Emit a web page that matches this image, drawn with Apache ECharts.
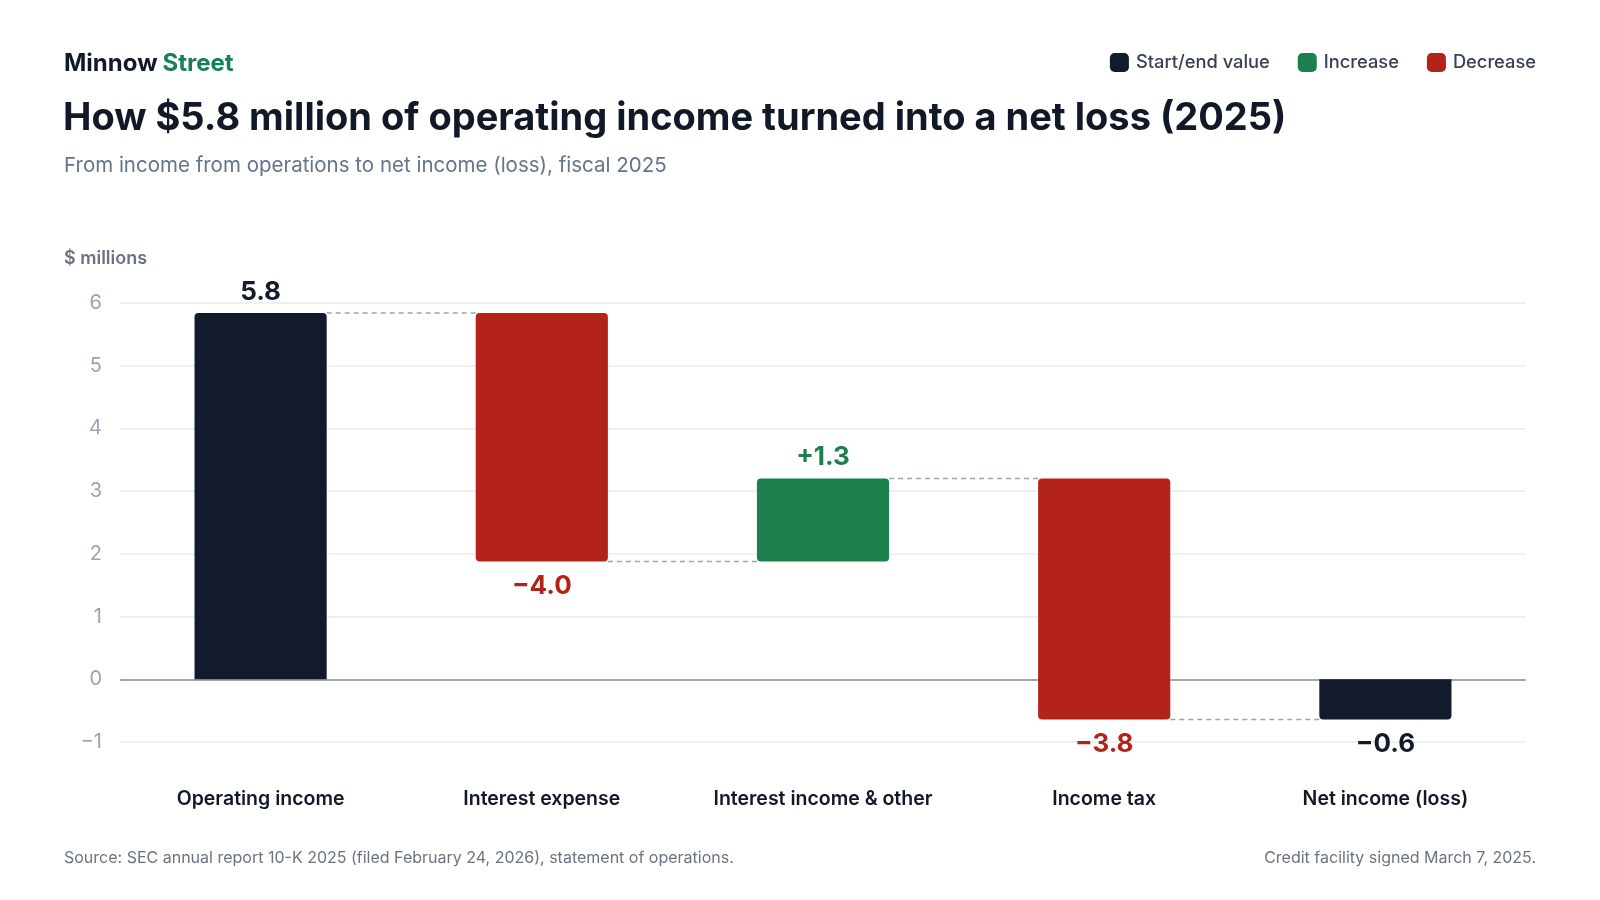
<!DOCTYPE html>
<html>
<head>
<meta charset="utf-8">
<script src="https://cdn.jsdelivr.net/npm/echarts@6/dist/echarts.min.js"></script>
<style>
  html, body { margin: 0; padding: 0; background: #ffffff; }
  #main { width: 1600px; height: 900px; }
</style>
</head>
<body>
<div id="main"></div>
<script>
var chart = echarts.init(document.getElementById("main"));

// valores ($ millones)
var categorias = ["Operating income", "Interest expense", "Interest income & other", "Income tax", "Net income (loss)"];
var valores = [5.84, -3.96, 1.32, -3.84, -0.64];
var tipos = ["total", "delta", "delta", "delta", "total"];
var ticksY = [-1, 0, 1, 2, 3, 4, 5, 6];

var colorTotal = "#131a2b";
var colorSube = "#1b804c";
var colorBaja = "#b32319";
var fuente = "Inter, 'Noto Sans', sans-serif";

// construir tramos de la cascada
var acumulado = 0;
var tramos = [];
for (var i = 0; i < valores.length; i++) {
  var bajo, alto;
  if (tipos[i] === "total") {
    bajo = Math.min(0, valores[i]);
    alto = Math.max(0, valores[i]);
    acumulado = valores[i];
  } else {
    var inicio = acumulado;
    acumulado = acumulado + valores[i];
    bajo = Math.min(inicio, acumulado);
    alto = Math.max(inicio, acumulado);
  }
  tramos.push([i, bajo, alto, acumulado, valores[i]]);
}

function etiqueta(i) {
  var v = valores[i];
  var txt = Math.abs(v).toFixed(1);
  if (v < 0) return "\u2212" + txt;
  if (tipos[i] === "delta") return "+" + txt;
  return txt;
}

function colorDe(i) {
  if (tipos[i] === "total") return colorTotal;
  return valores[i] >= 0 ? colorSube : colorBaja;
}

function dibujarTramo(params, api) {
  var i = api.value(0);
  var bajo = api.value(1);
  var alto = api.value(2);
  var nivel = api.value(3);
  var arriba = api.coord([i, alto]);
  var abajo = api.coord([i, bajo]);
  var ancho = api.size([1, 0])[0] * 0.47;
  var x = arriba[0] - ancho / 2;
  var r = [4, 4, 4, 4];
  if (bajo === 0) { r[2] = 0; r[3] = 0; }
  if (alto === 0) { r[0] = 0; r[1] = 0; }

  var hijos = [{
    type: "rect",
    shape: { x: x, y: arriba[1], width: ancho, height: abajo[1] - arriba[1], r: r },
    style: { fill: colorDe(i) }
  }];

  // etiqueta de valor
  var positivo = valores[i] >= 0;
  hijos.push({
    type: "text",
    style: {
      text: etiqueta(i),
      x: arriba[0],
      y: positivo ? arriba[1] - 8 : abajo[1] + 12,
      align: "center",
      verticalAlign: positivo ? "bottom" : "top",
      fill: colorDe(i),
      font: "bold 26px " + fuente
    }
  });

  // linea punteada hacia la siguiente barra
  if (i < categorias.length - 1) {
    var p = api.coord([i, nivel]);
    var sig = api.coord([i + 1, nivel]);
    hijos.push({
      type: "line",
      shape: { x1: p[0] + ancho / 2, y1: p[1], x2: sig[0] - ancho / 2, y2: sig[1] },
      style: { stroke: "#9ca3b3", lineWidth: 1.5, lineDash: [5, 4] }
    });
  }
  return { type: "group", children: hijos };
}

var option = {
  backgroundColor: "#ffffff",
  animation: false,
  title: [
    {
      text: "{a|Minnow} {b|Street}",
      left: 64, top: 52, padding: 0,
      textStyle: {
        rich: {
          a: { fontSize: 24, fontWeight: "bold", color: "#111827", fontFamily: fuente },
          b: { fontSize: 24, fontWeight: "bold", color: "#15805a", fontFamily: fuente }
        }
      }
    },
    {
      text: "How $5.8 million of operating income turned into a net loss (2025)",
      left: 63, top: 100, padding: 0,
      textStyle: { fontSize: 38, fontWeight: "bold", color: "#111827", fontFamily: fuente }
    },
    {
      text: "From income from operations to net income (loss), fiscal 2025",
      left: 64, top: 155, padding: 0,
      textStyle: { fontSize: 20.5, fontWeight: "normal", color: "#64748b", fontFamily: fuente }
    },
    {
      text: "$ millions",
      left: 64, top: 250, padding: 0,
      textStyle: { fontSize: 18, fontWeight: 600, color: "#6b7280", fontFamily: fuente }
    },
    {
      text: "Source: SEC annual report 10-K 2025 (filed February 24, 2026), statement of operations.",
      left: 64, top: 850, padding: 0,
      textStyle: { fontSize: 16, fontWeight: "normal", color: "#6b7280", fontFamily: fuente }
    },
    {
      text: "Credit facility signed March 7, 2025.",
      right: 64, top: 850, padding: 0,
      textStyle: { fontSize: 16, fontWeight: "normal", color: "#6b7280", fontFamily: fuente }
    }
  ],
  legend: {
    right: 64, top: 53, padding: 0,
    icon: "roundRect",
    itemWidth: 19, itemHeight: 19,
    itemGap: 28,
    textStyle: { fontSize: 18.3, fontWeight: 500, color: "#374151", fontFamily: fuente, padding: [0, 0, 0, 2] },
    data: ["Start/end value", "Increase", "Decrease"]
  },
  grid: { left: 120, right: 74, top: 303, bottom: 158 },
  xAxis: {
    type: "category",
    data: categorias,
    axisLine: { show: false, onZero: false },
    axisTick: { show: false },
    splitLine: { show: false },
    axisLabel: { interval: 0, margin: 47, fontSize: 19.5, fontWeight: 600, color: "#111827", fontFamily: fuente }
  },
  yAxis: {
    type: "value",
    min: ticksY[0], max: ticksY[ticksY.length - 1], interval: 1,
    axisLine: { show: false },
    axisTick: { show: false },
    splitLine: { lineStyle: { color: "#e9ecf1", width: 1.5 } },
    axisLabel: {
      margin: 18, fontSize: 20, color: "#9aa3b5", fontFamily: fuente,
      formatter: function (v) { return String(v).replace("-", "\u2212"); }
    }
  },
  series: [
    {
      type: "custom",
      name: "cascada",
      renderItem: dibujarTramo,
      encode: { x: 0, y: [1, 2] },
      data: tramos,
      z: 3,
      markLine: {
        silent: true,
        symbol: "none",
        label: { show: false },
        lineStyle: { color: "#a0a7b8", width: 2, type: "solid" },
        data: [{ yAxis: 0 }],
        z: 2
      }
    },
    { type: "bar", name: "Start/end value", data: [], itemStyle: { color: colorTotal } },
    { type: "bar", name: "Increase", data: [], itemStyle: { color: colorSube } },
    { type: "bar", name: "Decrease", data: [], itemStyle: { color: colorBaja } }
  ]
};

chart.setOption(option);
</script>
</body>
</html>
